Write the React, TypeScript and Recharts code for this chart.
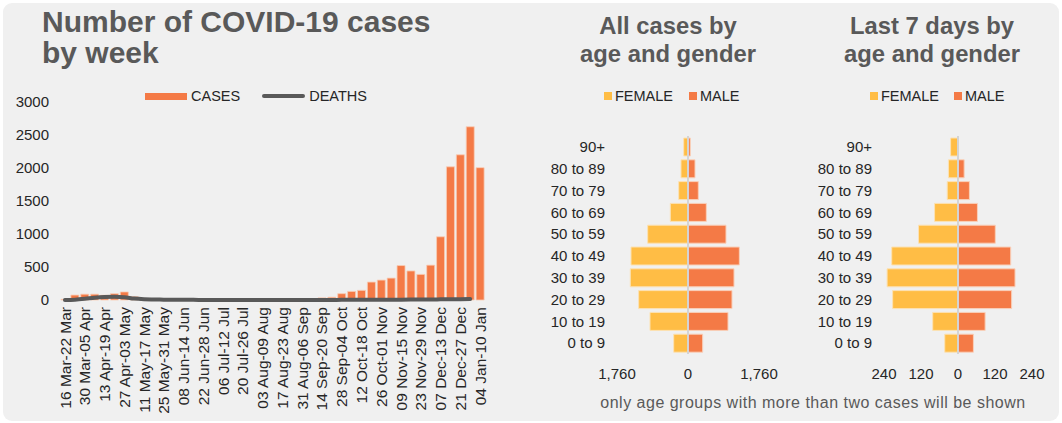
import React from "react"
import { ComposedChart, BarChart, Bar, Line, XAxis, YAxis, ReferenceLine } from "recharts"

const WEEKS = [
  "16 Mar-22 Mar", "23 Mar-29 Mar", "30 Mar-05 Apr", "06 Apr-12 Apr", "13 Apr-19 Apr",
  "20 Apr-26 Apr", "27 Apr-03 May", "04 May-10 May", "11 May-17 May", "18 May-24 May",
  "25 May-31 May", "01 Jun-07 Jun", "08 Jun-14 Jun", "15 Jun-21 Jun", "22 Jun-28 Jun",
  "29 Jun-05 Jul", "06 Jul-12 Jul", "13 Jul-19 Jul", "20 Jul-26 Jul", "27 Jul-02 Aug",
  "03 Aug-09 Aug", "10 Aug-16 Aug", "17 Aug-23 Aug", "24 Aug-30 Aug", "31 Aug-06 Sep",
  "07 Sep-13 Sep", "14 Sep-20 Sep", "21 Sep-27 Sep", "28 Sep-04 Oct", "05 Oct-11 Oct",
  "12 Oct-18 Oct", "19 Oct-25 Oct", "26 Oct-01 Nov", "02 Nov-08 Nov", "09 Nov-15 Nov",
  "16 Nov-22 Nov", "23 Nov-29 Nov", "30 Nov-06 Dec", "07 Dec-13 Dec", "14 Dec-20 Dec",
  "21 Dec-27 Dec", "28 Dec-03 Jan", "04 Jan-10 Jan",
]

const CASES = [
  10, 75, 88, 88, 72, 95, 122, 50, 15, 8,
  5, 4, 3, 3, 2, 4, 5, 4, 6, 8,
  6, 8, 10, 12, 10, 18, 32, 42, 96, 130,
  146, 272, 302, 332, 522, 440, 388, 528, 958, 2018,
  2200, 2625, 2005,
]

const DEATHS = [
  0, 5, 18, 35, 45, 48, 42, 22, 12, 8,
  5, 3, 2, 2, 1, 1, 1, 1, 1, 1,
  1, 1, 1, 1, 1, 1, 1, 1, 2, 2,
  2, 2, 3, 3, 5, 6, 8, 8, 10, 12,
  12, 14, null,
]

const CASE_TICKS = [0, 500, 1000, 1500, 2000, 2500, 3000]

const AGE_GROUPS = ["90+", "80 to 89", "70 to 79", "60 to 69", "50 to 59", "40 to 49", "30 to 39", "20 to 29", "10 to 19", "0 to 9"]

const ALL_FEMALE = [107, 174, 231, 438, 1000, 1413, 1430, 1223, 942, 355]
const ALL_MALE = [58, 174, 256, 454, 942, 1273, 1141, 1091, 992, 364]
const ALL_TICKS = [-1760, 0, 1760]

const WEEK_FEMALE = [24, 31, 35, 76, 128, 215, 230, 212, 82, 43]
const WEEK_MALE = [1, 20, 37, 63, 121, 171, 185, 174, 88, 50]
const WEEK_TICKS = [-240, -120, 0, 120, 240]

const FONT = "'Liberation Sans', Arial, sans-serif"
const ORANGE = "#F47A46"
const YELLOW = "#FFBD45"
const GREY = "#595959"
const TEXT = "#262626"

const weeklyData = WEEKS.map((w, i) => ({ week: w, cases: CASES[i], deaths: DEATHS[i] }))

const pyramid = (female: number[], male: number[]) =>
  AGE_GROUPS.map((g, i) => ({ age: g, female: -female[i], male: male[i] }))

const WeekTick = (props: any) => {
  const { x, payload } = props
  const y = props.y - 1
  return (
    <text
      x={x}
      y={y}
      transform={`rotate(-90 ${x} ${y})`}
      textAnchor="end"
      dy="0.36em"
      fontSize={15.5}
      fontFamily={FONT}
      fill={TEXT}
    >
      {payload.value}
    </text>
  )
}

function Swatch({ left, color, label }: { left: number; color: string; label: string }) {
  return (
    <div style={{ position: "absolute", left, top: 88, display: "flex", alignItems: "center", fontSize: 14.5, color: TEXT }}>
      <span style={{ width: 8, height: 8, background: color, marginRight: 3 }} />
      {label}
    </div>
  )
}

function Pyramid({ left, width, plotLeft, plotRight, female, male, ticks, max }: any) {
  const data = pyramid(female, male)
  return (
    <div style={{ position: "absolute", left, top: 0 }}>
      <BarChart
        width={width}
        height={423}
        data={data}
        layout="vertical"
        stackOffset="sign"
        margin={{ top: 136, right: width - plotRight, bottom: 39, left: 0 }}
      >
        <XAxis
          type="number"
          domain={[-max, max]}
          ticks={ticks}
          axisLine={false}
          tickLine={false}
          tickMargin={8}
          height={30}
          tick={{ fontSize: 15, fill: TEXT, fontFamily: FONT }}
          tickFormatter={(v: number) => Math.abs(v).toLocaleString("en-US")}
        />
        <YAxis
          type="category"
          dataKey="age"
          width={plotLeft}
          interval={0}
          axisLine={false}
          tickLine={false}
          tickMargin={6}
          tick={{ fontSize: 15, fill: TEXT, fontFamily: FONT }}
        />
        <Bar dataKey="female" stackId="s" fill={YELLOW} stroke="#FCE2B4" strokeWidth={1} barSize={18} isAnimationActive={false} />
        <Bar dataKey="male" stackId="s" fill={ORANGE} stroke="#F9D0BA" strokeWidth={1} barSize={18} isAnimationActive={false} />
        <ReferenceLine x={0} stroke="#D4D4D4" strokeWidth={2} />
      </BarChart>
    </div>
  )
}

export default function App() {
  return (
    <div style={{ position: "relative", width: 1062, height: 423, background: "#fff", fontFamily: FONT, overflow: "hidden" }}>
      <style>{"body{margin:0}"}</style>
      <div style={{ position: "absolute", left: 3, top: 3, width: 1056, height: 418, background: "#F0F0F0", borderRadius: 9 }} />

      {/* weekly cases */}
      <div style={{ position: "absolute", left: 42, top: 6, fontSize: 30, lineHeight: "31px", fontWeight: "bold", color: GREY }}>
        Number of COVID-19 cases
        <br />
        by week
      </div>
      <div style={{ position: "absolute", left: 145, top: 88, display: "flex", alignItems: "center", fontSize: 14.5, color: TEXT }}>
        <span style={{ width: 42, height: 7, background: ORANGE, marginRight: 4 }} />
        CASES
        <span style={{ width: 43, height: 4, background: GREY, borderRadius: 2, marginLeft: 22, marginRight: 4 }} />
        DEATHS
      </div>
      <div style={{ position: "absolute", left: 0, top: 0 }}>
        <ComposedChart width={500} height={423} data={weeklyData} margin={{ top: 102, right: 15, bottom: 5, left: 0 }}>
          <XAxis dataKey="week" interval={1} axisLine={false} tickLine={false} height={118} tick={<WeekTick />} />
          <YAxis
            domain={[0, 3000]}
            ticks={CASE_TICKS}
            width={60}
            axisLine={false}
            tickLine={false}
            tickMargin={5}
            tick={{ fontSize: 15, fill: TEXT, fontFamily: FONT }}
          />
          <Bar dataKey="cases" fill={ORANGE} stroke="#F9CDB5" strokeWidth={0.8} barSize={8} isAnimationActive={false} />
          <Line
            type="monotone"
            dataKey="deaths"
            stroke={GREY}
            strokeWidth={4}
            dot={false}
            strokeLinecap="round"
            connectNulls={false}
            isAnimationActive={false}
          />
        </ComposedChart>
      </div>

      {/* pyramids */}
      <div style={{ position: "absolute", left: 568, width: 200, top: 12, textAlign: "center", fontSize: 23.8, lineHeight: "28px", fontWeight: "bold", color: GREY }}>
        All cases by
        <br />
        age and gender
      </div>
      <div style={{ position: "absolute", left: 832, width: 200, top: 12, textAlign: "center", fontSize: 23.8, lineHeight: "28px", fontWeight: "bold", color: GREY }}>
        Last 7 days by
        <br />
        age and gender
      </div>
      <Swatch left={604} color={YELLOW} label="FEMALE" />
      <Swatch left={689} color={ORANGE} label="MALE" />
      <Swatch left={870} color={YELLOW} label="FEMALE" />
      <Swatch left={954} color={ORANGE} label="MALE" />

      <Pyramid left={520} width={260} plotLeft={97} plotRight={239} female={ALL_FEMALE} male={ALL_MALE} ticks={ALL_TICKS} max={1760} />
      <Pyramid left={790} width={260} plotLeft={94} plotRight={242} female={WEEK_FEMALE} male={WEEK_MALE} ticks={WEEK_TICKS} max={240} />

      <div style={{ position: "absolute", left: 560, width: 506, top: 394, textAlign: "center", fontSize: 16, letterSpacing: 0.5, color: GREY }}>
        only age groups with more than two cases will be shown
      </div>
    </div>
  )
}
